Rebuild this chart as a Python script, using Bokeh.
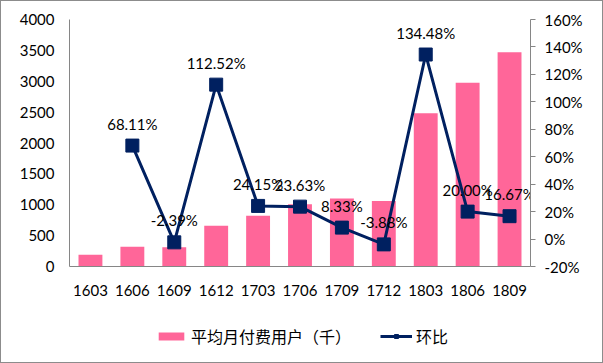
from bokeh.plotting import figure
from bokeh.layouts import column
from bokeh.models import (ColumnDataSource, Range1d, LinearAxis, FixedTicker, FactorRange,
                          CustomJSTickFormatter, Legend, LegendItem)
from bokeh.core.properties import value
from bokeh.embed import file_html
from bokeh.resources import INLINE

categories = ["1603", "1606", "1609", "1612", "1703", "1706", "1709", "1712", "1803", "1806", "1809"]
users = [190, 320, 310, 660, 820, 1010, 1100, 1060, 2480, 2975, 3470]
ratio_categories = ["1606", "1609", "1612", "1703", "1706", "1709", "1712", "1803", "1806", "1809"]
ratio = [68.11, -2.39, 112.52, 24.15, 23.63, 8.33, -3.88, 134.48, 20.00, 16.67]
left_ticks = [0, 500, 1000, 1500, 2000, 2500, 3000, 3500, 4000]
right_ticks = [-20, 0, 20, 40, 60, 80, 100, 120, 140, 160]
series_names = ["平均月付费用户（千）", "环比"]

BAR = "#FF6699"
LINE = "#002060"
AXIS = "#868686"
FONT = "Lato"

bars = ColumnDataSource(dict(cat=categories, users=users))
line_src = ColumnDataSource(dict(cat=ratio_categories, pct=ratio,
                                 lbl=["%.2f%%" % v for v in ratio]))

p = figure(x_range=categories, y_range=Range1d(0, 4000),
           frame_width=461, frame_height=247,
           min_border_left=68, min_border_right=72, min_border_top=18, min_border_bottom=50,
           output_backend="svg", toolbar_location=None)
p.extra_y_ranges = {"pct": Range1d(-20, 160)}
p.outline_line_color = None
p.xgrid.grid_line_color = None
p.ygrid.grid_line_color = None
p.background_fill_color = "white"
p.border_fill_color = "white"

p.vbar(x="cat", top="users", width=0.57, source=bars, fill_color=BAR, line_color=None)
p.line(x="cat", y="pct", source=line_src, y_range_name="pct", line_color=LINE, line_width=3)
p.scatter(x="cat", y="pct", source=line_src, y_range_name="pct", marker="square",
          size=13, fill_color=LINE, line_color=LINE)
p.text(x="cat", y="pct", text="lbl", source=line_src, y_range_name="pct",
       text_align="center", text_baseline="bottom", y_offset=-13,
       text_font=value(FONT), text_font_size="15px", text_color="#000000")

# left axis
ya = p.yaxis[0]
ya.ticker = FixedTicker(ticks=left_ticks)
ya.axis_line_color = AXIS
ya.major_tick_line_color = None
ya.major_tick_in = 0
ya.major_tick_out = 0
ya.minor_tick_line_color = None
ya.major_label_standoff = 15
ya.major_label_text_font = FONT
ya.major_label_text_font_size = "15px"
ya.major_label_text_color = "#000000"

# bottom axis
xa = p.xaxis[0]
xa.axis_line_color = AXIS
xa.major_tick_line_color = None
xa.major_tick_in = 0
xa.major_tick_out = 0
xa.minor_tick_line_color = None
xa.major_label_standoff = 18
xa.major_label_text_font = FONT
xa.major_label_text_font_size = "15px"
xa.major_label_text_color = "#000000"

# right axis
ra = LinearAxis(y_range_name="pct", ticker=FixedTicker(ticks=right_ticks),
                formatter=CustomJSTickFormatter(code="return tick.toFixed(0) + '%';"))
ra.axis_line_color = AXIS
ra.major_tick_line_color = AXIS
ra.major_tick_in = 0
ra.major_tick_out = 5
ra.minor_tick_line_color = None
ra.major_label_standoff = 9
ra.major_label_text_font = FONT
ra.major_label_text_font_size = "15px"
ra.major_label_text_color = "#000000"
p.add_layout(ra, "right")

# legend strip: same series drawn in a view window that holds none of them,
# so only the legend's swatches show
q = figure(width=601, height=46, x_range=FactorRange(*categories), y_range=Range1d(10000, 10001),
           min_border=0, x_axis_type=None, y_axis_type=None,
           output_backend="svg", toolbar_location=None)
q.outline_line_color = None
q.xgrid.grid_line_color = None
q.ygrid.grid_line_color = None
lb = q.vbar(x="cat", top="users", width=0.57, source=bars, fill_color=BAR, line_color=None)
ll = q.line(x="cat", y="pct", source=line_src, line_color=LINE, line_width=3)
ls = q.scatter(x="cat", y="pct", source=line_src, marker="square", size=13,
               fill_color=LINE, line_color=LINE)
legend = Legend(items=[LegendItem(label=series_names[0], renderers=[lb]),
                       LegendItem(label=series_names[1], renderers=[ll, ls])],
                orientation="horizontal", location=(86, 14),
                glyph_width=32, glyph_height=10, label_standoff=4, spacing=29,
                padding=0, margin=0, border_line_color=None, background_fill_alpha=0,
                label_text_font="Noto Sans CJK SC", label_text_font_size="16px",
                label_text_color="#000000")
q.add_layout(legend, "center")

layout = column(p, q, spacing=0)
layout.styles = {"border": "1px solid #8c8c8c"}

open("out.html", "w").write(file_html(layout, INLINE))
